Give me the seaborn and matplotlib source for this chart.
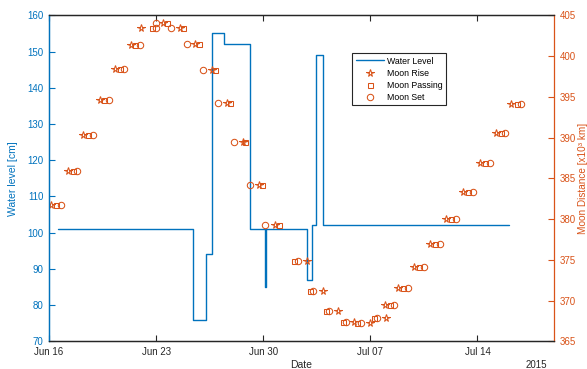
import numpy as np
import pandas as pd
import matplotlib
matplotlib.use("Agg")
import matplotlib.pyplot as plt
import matplotlib.dates as mdates
import seaborn as sns

# ---------------- data ----------------
BASE = pd.Timestamp("2015-06-16")

# Water level (step series): time in days after Jun 16 00:00, level in cm
level_day = [0.58, 9.43, 10.28, 10.65, 11.41, 13.15, 14.13, 14.20,
             16.85, 17.21, 17.44, 17.93, 30.07]
level_cm = [101, 76, 94, 155, 152, 101, 85, 101, 87, 102, 149, 102, 102]

# Moon rise: time (days after Jun 16) and distance (x10^3 km)
rise_day = [0.15, 1.23, 2.24, 3.32, 4.34, 5.37, 5.98, 7.48, 8.54, 9.56,
            10.65, 11.63, 12.65, 13.71, 14.78, 16.85, 17.89, 18.91, 19.93, 20.98,
            22.00, 21.96, 22.82, 23.87, 24.89, 25.92, 27.06, 28.16, 29.18, 30.22]
rise_dist = [381.7, 385.9, 390.3, 394.6, 398.4, 401.4, 403.4, 404.1, 403.5, 401.5,
             398.3, 394.2, 389.4, 384.2, 379.3, 374.8, 371.2, 368.7, 367.4, 367.2,
             367.9, 369.4, 371.5, 374.1, 376.9, 380.0, 383.3, 386.9, 390.5, 394.1]

# Moon passing
pass_day = [0.43, 1.54, 2.54, 3.58, 4.63, 5.65, 6.73, 7.72, 8.76, 9.80,
            10.84, 11.80, 12.82, 13.93, 15.04, 16.04, 17.06, 18.11, 19.20, 20.15,
            21.24, 22.28, 23.15, 24.19, 25.22, 26.27, 27.37, 28.48, 29.51, 30.56]
pass_dist = [381.7, 385.9, 390.3, 394.6, 398.4, 401.4, 403.4, 404.1, 403.5, 401.5,
             398.3, 394.2, 389.4, 384.2, 379.3, 374.8, 371.2, 368.7, 367.4, 367.2,
             367.9, 369.4, 371.5, 374.1, 376.9, 380.0, 383.3, 386.9, 390.5, 394.1]

# Moon set
set_day = [0.80, 1.85, 2.86, 3.91, 4.93, 5.96, 7.02, 6.97, 8.00, 9.02,
           10.04, 11.04, 12.06, 13.12, 14.13, 16.26, 17.28, 18.32, 19.41, 20.39,
           21.45, 22.54, 23.46, 24.50, 25.55, 26.57, 27.72, 28.81, 29.83, 30.87]
set_dist = [381.7, 385.9, 390.3, 394.6, 398.4, 401.4, 403.4, 404.1, 403.5, 401.5,
            398.3, 394.2, 389.4, 384.2, 379.3, 374.8, 371.2, 368.7, 367.4, 367.2,
            367.9, 369.4, 371.5, 374.1, 376.9, 380.0, 383.3, 386.9, 390.5, 394.1]

left_ticks = [70, 80, 90, 100, 110, 120, 130, 140, 150, 160]
right_ticks = [365, 370, 375, 380, 385, 390, 395, 400, 405]
date_ticks = ["2015-06-16", "2015-06-23", "2015-06-30", "2015-07-07", "2015-07-14"]

# ---------------- style ----------------
BLUE = "#0072BD"
ORANGE = "#D95319"
DARK = "#262626"

sns.set_style("white")
plt.rcParams["font.family"] = ["Liberation Sans", "DejaVu Sans"]

def to_time(days):
    return BASE + pd.to_timedelta(np.asarray(days), unit="D")

water = pd.DataFrame({"t": to_time(level_day), "v": level_cm})
rise = pd.DataFrame({"t": to_time(rise_day), "d": rise_dist})
passing = pd.DataFrame({"t": to_time(pass_day), "d": pass_dist})
mset = pd.DataFrame({"t": to_time(set_day), "d": set_dist})

fig = plt.figure(figsize=(5.87, 3.69), dpi=100)
L, R, B, T = 49 / 587, 554 / 587, 1 - 341.3 / 369, 1 - 15.3 / 369
ax = fig.add_axes([L, B, R - L, T - B])
ax2 = ax.twinx()

sns.lineplot(data=water, x="t", y="v", ax=ax, color=BLUE, lw=1.0,
             drawstyle="steps-post", estimator=None, sort=False, label="Water Level")

mk = dict(ax=ax2, color=ORANGE, linestyle="", estimator=None, sort=False,
          markerfacecolor="none", markeredgecolor=ORANGE, markeredgewidth=0.75)
sns.lineplot(data=rise, x="t", y="d", marker="*", markersize=5.5, label="Moon Rise", **mk)
sns.lineplot(data=passing, x="t", y="d", marker="s", markersize=3.6, label="Moon Passing", **mk)
sns.lineplot(data=mset, x="t", y="d", marker="o", markersize=4.6, label="Moon Set", **mk)

for a in (ax, ax2):
    lg = a.get_legend()
    if lg is not None:
        lg.remove()

ax.set_xlim(pd.Timestamp("2015-06-16"), pd.Timestamp("2015-07-19"))
ax.set_ylim(70, 160)
ax2.set_ylim(365, 405)

ax.set_xticks(pd.to_datetime(date_ticks))
ax.xaxis.set_major_formatter(mdates.DateFormatter("%b %d"))
ax.set_yticks(left_ticks)
ax2.set_yticks(right_ticks)

ax.tick_params(axis="x", direction="in", length=4, width=0.8, colors=DARK,
               labelsize=7, pad=4, top=True, bottom=True)
ax.tick_params(axis="y", direction="in", length=4, width=0.8, colors=BLUE,
               labelsize=7, pad=4)
ax2.tick_params(axis="y", direction="in", length=4, width=0.8, colors=ORANGE,
                labelsize=7, pad=4)

for a in (ax, ax2):
    for s in a.spines.values():
        s.set_linewidth(0.9)
        s.set_color(DARK)
ax2.spines["left"].set_color(BLUE)
ax.spines["left"].set_color(BLUE)
ax2.spines["right"].set_color(ORANGE)
ax.spines["right"].set_visible(False)

ax.set_xlabel("Date", fontsize=7.5, color=DARK)
ax.xaxis.set_label_coords(0.499, -0.057)
ax.set_ylabel("Water level [cm]", fontsize=7.5, color=BLUE)
ax.yaxis.set_label_coords(-0.061, 0.5)
ax2.set_ylabel("Moon Distance [x10³ km]", fontsize=7.2, color=ORANGE)
ax2.yaxis.set_label_coords((578 - 49) / 505, 0.5)

fig.text(536.5 / 587, 1 - 365 / 369, "2015", ha="center", va="center",
         fontsize=7, color=DARK)

h1, l1 = ax.get_legend_handles_labels()
h2, l2 = ax2.get_legend_handles_labels()
leg = ax2.legend(h1 + h2, l1 + l2, loc="upper left",
                 bbox_to_anchor=(352 / 587, 1 - 53 / 369), bbox_transform=fig.transFigure,
                 borderaxespad=0, fontsize=6.3, frameon=True, fancybox=False,
                 edgecolor=DARK, framealpha=1, handlelength=3.2, handletextpad=0.4,
                 labelspacing=0.35, borderpad=0.4)
leg.get_frame().set_linewidth(0.8)
for t in leg.get_texts():
    t.set_color("black")

fig.savefig("out.png", dpi=100)
